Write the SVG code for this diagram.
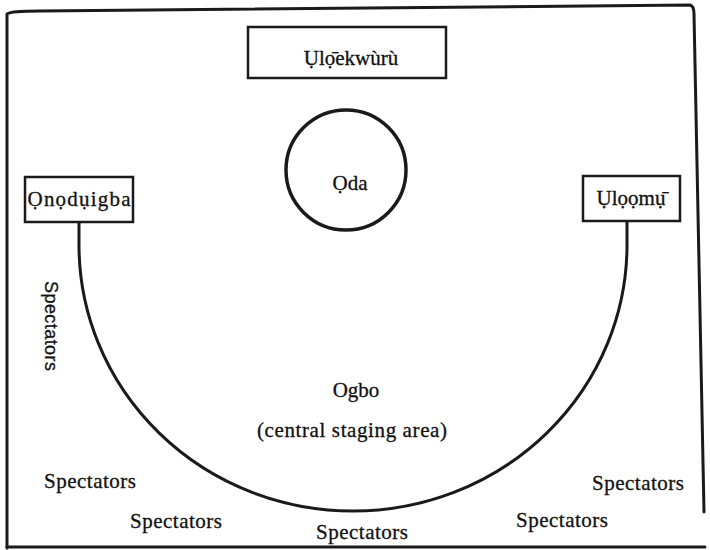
<svg xmlns="http://www.w3.org/2000/svg" width="710" height="550" viewBox="0 0 710 550">
<style>
.ln{fill:none;stroke:#1a1a1a;stroke-width:3;stroke-linecap:round;stroke-linejoin:round}
.bx{fill:#fff;stroke:#1a1a1a;stroke-width:2.5}
.t{font-family:"Liberation Serif","DejaVu Serif",serif;font-size:21px;fill:#111;stroke:#111;stroke-width:0.3}
.s{font-family:"Liberation Sans","DejaVu Sans",sans-serif;font-size:18px;fill:#111;stroke:#111;stroke-width:0.3}
</style>
<rect width="710" height="550" fill="#fff"/>
<g id="frame">
<path class="ln" d="M7,548 L7,14 Q10,11 40,11 L690,5 Q694,6 694,14 L704,512"/>
<path class="ln" d="M7,547 L705,547" stroke-width="2"/>
</g>
<g id="connectors">
<path class="ln" d="M79,222 L79,245 A274,266 0 0 0 627,245 L627,221"/>
</g>
<g id="ulo-ekwuru">
<rect class="bx" x="248" y="27" width="198" height="51"/>
<text class="t" x="351" y="65" text-anchor="middle">Ụlọ̄ekwùrù</text>
</g>
<g id="oda">
<circle cx="346" cy="170" r="60" fill="#fff" stroke="#1a1a1a" stroke-width="3.5"/>
<text class="t" x="350" y="190" text-anchor="middle">Ọda</text>
</g>
<g id="onodu-igba">
<rect class="bx" x="25" y="177" width="108" height="45"/>
<text class="t" x="79" y="206" text-anchor="middle" textLength="103">Ọnọdụigba</text>
</g>
<g id="ulo-omu">
<rect class="bx" x="583" y="176" width="97" height="45"/>
<text class="t" x="631" y="205" text-anchor="middle">Ụlọọmụ̄</text>
</g>
<g id="ogbo">
<text class="t" x="356" y="397" text-anchor="middle">Ogbo</text>
<text class="t" x="352" y="437" text-anchor="middle" textLength="190">(central staging area)</text>
</g>
<g id="spectators">
<text class="s" transform="translate(45,326) rotate(90)" text-anchor="middle" textLength="90">Spectators</text>
<text class="t" x="90" y="488" text-anchor="middle" textLength="92">Spectators</text>
<text class="t" x="176" y="528" text-anchor="middle" textLength="92">Spectators</text>
<text class="t" x="362" y="539" text-anchor="middle" textLength="92">Spectators</text>
<text class="t" x="562" y="527" text-anchor="middle" textLength="92">Spectators</text>
<text class="t" x="638" y="490" text-anchor="middle" textLength="92">Spectators</text>
</g>
</svg>
